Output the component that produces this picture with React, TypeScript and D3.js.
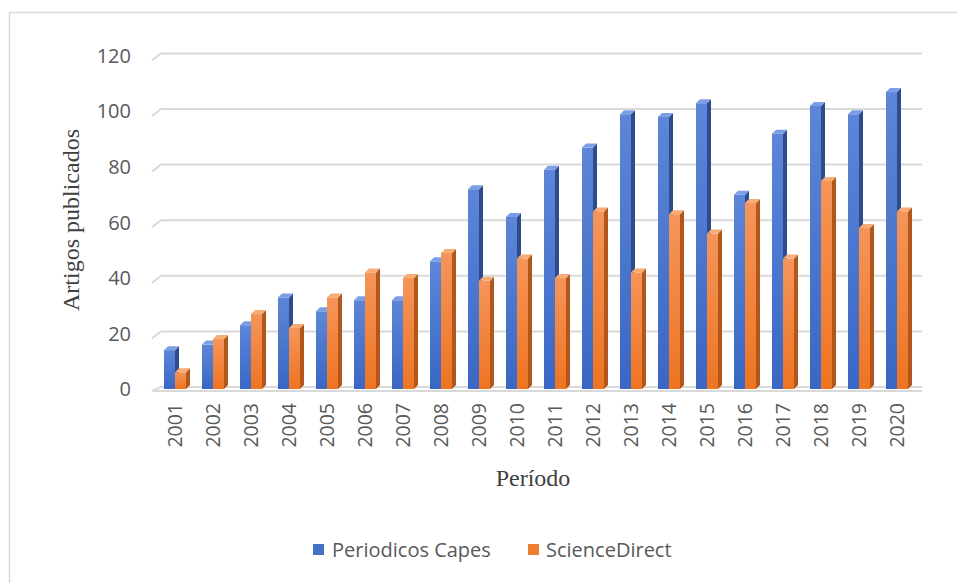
import React from "react";
import * as d3 from "d3";

const years = ["2001","2002","2003","2004","2005","2006","2007","2008","2009","2010","2011","2012","2013","2014","2015","2016","2017","2018","2019","2020"];
const capes = [14,16,23,33,28,32,32,46,72,62,79,87,99,98,103,70,92,102,99,107];
const scienceDirect = [6,18,27,22,33,42,40,49,39,47,40,64,42,63,56,67,47,75,58,64];
const yTicks = [0,20,40,60,80,100,120];
const seriesNames = ["Periodicos Capes","ScienceDirect"];

const W = 957, H = 583;
const x = d3.scalePoint<string>().domain(years).range([175, 897]);
const sub = d3.scaleBand<string>().domain(seriesNames).range([-11, 11]).padding(0);
const y = d3.scaleLinear().domain([0, 120]).range([387, 53.4]);
const yBar = d3.scaleLinear().domain([0, 120]).range([389, 56]);
const base = 389;
const DX = 4, DY = -4;

const styles = {
  "Periodicos Capes": { top: "#7c9ee4", side: "#2c4c8c", g0: "#5d86d8", g1: "#3a67c3", id: "gb" },
  "ScienceDirect": { top: "#f7ac76", side: "#b3561b", g0: "#f5955a", g1: "#ee7422", id: "go" },
} as Record<string, any>;

function Bar({ cx, v, name }: { cx: number; v: number; name: string }) {
  const s = styles[name];
  const x0 = cx + (sub(name) as number);
  const w = sub.bandwidth();
  const yt = yBar(v);
  return (
    <g>
      <rect x={x0} y={yt} width={w} height={base - yt} fill={`url(#${s.id})`} />
      <polygon points={`${x0 + w},${yt} ${x0 + w + DX},${yt + DY} ${x0 + w + DX},${base + DY} ${x0 + w},${base}`} fill={s.side} />
      <polygon points={`${x0},${yt} ${x0 + DX},${yt + DY} ${x0 + w + DX},${yt + DY} ${x0 + w},${yt}`} fill={s.top} />
    </g>
  );
}

export default function App() {
  const sans = "'Open Sans', 'Noto Sans', sans-serif";
  const serif = "'Liberation Serif', 'DejaVu Serif', serif";
  return (
    <svg width={W} height={H} style={{ position: "absolute", left: 0, top: 0, background: "#fff" }}>
      <defs>
        {seriesNames.map((n) => (
          <linearGradient key={n} id={styles[n].id} x1="0" y1="0" x2="0" y2="1">
            <stop offset="0%" stopColor={styles[n].g0} />
            <stop offset="100%" stopColor={styles[n].g1} />
          </linearGradient>
        ))}
      </defs>
      <path d={`M9.5,${H} V12.5 H${W}`} fill="none" stroke="#d9d9d9" strokeWidth={1.5} />
      {yTicks.map((t) => {
        const yy = y(t);
        return (
          <g key={t}>
            {t === 0 ? (
              <path d={`M152,${base + 2} L161,${yy} H922 M152,${base + 2} H922`} fill="none" stroke="#d9d9d9" strokeWidth={2} />
            ) : (
              <path d={`M152,${yy + 7} L161,${yy} H922`} fill="none" stroke="#d9d9d9" strokeWidth={2} />
            )}
            <text x={131} y={yy + 4} textAnchor="end" dominantBaseline="middle" fontFamily={sans} fontSize={20} fill="#595959">{t}</text>
          </g>
        );
      })}
      {years.map((yr, i) => {
        const cx = x(yr) as number;
        return (
          <g key={yr}>
            <Bar cx={cx} v={capes[i]} name="Periodicos Capes" />
            <Bar cx={cx} v={scienceDirect[i]} name="ScienceDirect" />
            <text transform={`translate(${cx + 7},403) rotate(-90)`} textAnchor="end" fontFamily={sans} fontSize={19.5} fill="#595959">{yr}</text>
          </g>
        );
      })}
      <text transform="translate(79,220) rotate(-90)" textAnchor="middle" fontFamily={serif} fontSize={24} fill="#404040">Artigos publicados</text>
      <text x={533} y={486} textAnchor="middle" fontFamily={serif} fontSize={24} fill="#404040">Período</text>
      <rect x={313} y={544} width={11} height={11} fill="#4472c4" />
      <text x={332} y={557} fontFamily={sans} fontSize={20} fill="#595959">{seriesNames[0]}</text>
      <rect x={528} y={544} width={11} height={11} fill="#ed7d31" />
      <text x={546} y={557} fontFamily={sans} fontSize={20} fill="#595959">{seriesNames[1]}</text>
    </svg>
  );
}
